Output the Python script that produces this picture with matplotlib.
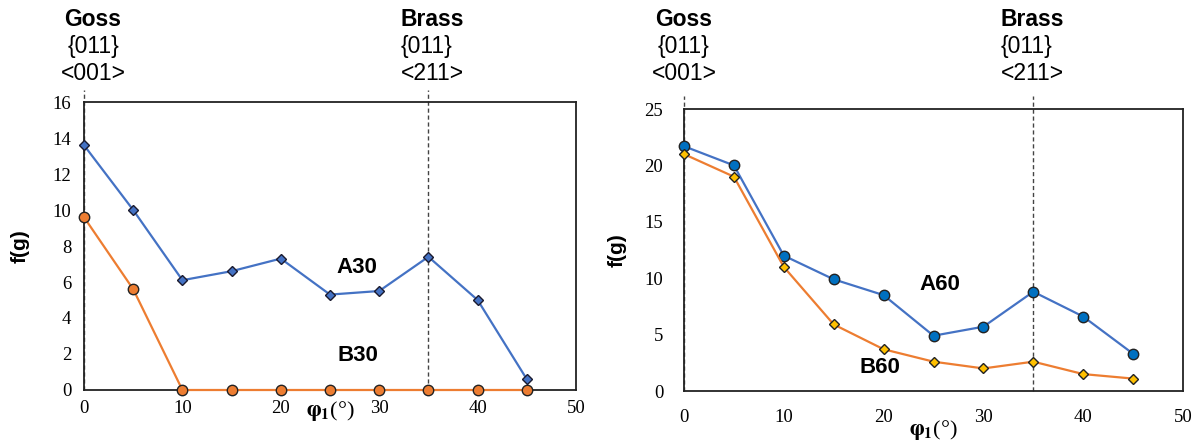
import matplotlib.pyplot as plt

phi1 = [0, 5, 10, 15, 20, 25, 30, 35, 40, 45]

a30 = [13.6, 10.0, 6.1, 6.6, 7.3, 5.3, 5.5, 7.4, 5.0, 0.6]
b30 = [9.6, 5.6, 0, 0, 0, 0, 0, 0, 0, 0]
a60 = [21.7, 20.0, 12.0, 9.9, 8.5, 4.9, 5.7, 8.8, 6.6, 3.3]
b60 = [21.0, 19.0, 11.0, 5.9, 3.7, 2.6, 2.0, 2.6, 1.5, 1.1]

left_yticks = [0, 2, 4, 6, 8, 10, 12, 14, 16]
right_yticks = [0, 5, 10, 15, 20, 25]
xticks = [0, 10, 20, 30, 40, 50]

BLUE = "#4472C4"
ORANGE = "#ED7D31"
SERIF = "Liberation Serif"
SANS = "Liberation Sans"

plt.rcParams["mathtext.fontset"] = "stix"

fig = plt.figure(figsize=(11.99, 4.45), dpi=100)
ax1 = fig.add_axes([84 / 1199, 1 - 390 / 445, 492 / 1199, 288 / 445])
ax2 = fig.add_axes([684 / 1199, 1 - 391 / 445, 499 / 1199, 282 / 445])


def style_axes(ax, ymax, yticks, ylabel_x, xlabel_y, xpad, ypad):
    ax.set_xlim(0, 50)
    ax.set_ylim(0, ymax)
    ax.set_xticks(xticks)
    ax.set_yticks(yticks)
    ax.tick_params(length=0, labelsize=13.5)
    ax.tick_params(axis="x", pad=xpad)
    ax.tick_params(axis="y", pad=ypad)
    for lab in ax.get_xticklabels() + ax.get_yticklabels():
        lab.set_fontfamily(SERIF)
    for sp in ax.spines.values():
        sp.set_linewidth(1.3)
        sp.set_color("#222222")
    ax.set_ylabel("f(g)", fontfamily=SANS, fontweight="bold", fontsize=15)
    ax.yaxis.set_label_coords(ylabel_x, 0.5)
    ax.set_xlabel(r"$\mathbf{\varphi_1}$(°)", fontfamily=SERIF, fontsize=16)
    ax.xaxis.set_label_coords(0.5, xlabel_y)


# left panel
ax1.plot(phi1, a30, color=BLUE, lw=1.6, marker="D", ms=5, mfc=BLUE,
         mec="#1a1a2e", mew=1.0, clip_on=False, zorder=3)
ax1.plot(phi1, b30, color=ORANGE, lw=1.6, marker="o", ms=7.5, mfc=ORANGE,
         mec="#222222", mew=1.0, clip_on=False, zorder=3)
style_axes(ax1, 16, left_yticks, -0.11, -0.03, 7, 9)
ax1.text(27.7, 6.8, "A30", fontfamily=SANS, fontweight="bold", fontsize=16,
         ha="center", va="center")
ax1.text(27.8, 1.9, "B30", fontfamily=SANS, fontweight="bold", fontsize=16,
         ha="center", va="center")

# right panel
ax2.plot(phi1, a60, color=BLUE, lw=1.6, marker="o", ms=7.5, mfc="#0070C0",
         mec="#222222", mew=1.0, clip_on=False, zorder=3)
ax2.plot(phi1, b60, color=ORANGE, lw=1.6, marker="D", ms=5, mfc="#FFC000",
         mec="#222222", mew=1.0, clip_on=False, zorder=3)
style_axes(ax2, 25, right_yticks, -0.115, -0.095, 13, 15)
ax2.text(25.6, 9.4, "A60", fontfamily=SANS, fontweight="bold", fontsize=16,
         ha="center", va="center")
ax2.text(19.6, 2.1, "B60", fontfamily=SANS, fontweight="bold", fontsize=16,
         ha="center", va="center")

# dashed orientation lines and labels (figure pixel positions of text rows)
for ax, top_px, goss_px, brass_px in ((ax1, 90, 93, 401), (ax2, 96, 684, 1001)):
    y0, y1 = ax.get_ylim()
    bottom_px = 390 if ax is ax1 else 391
    span_px = 288 if ax is ax1 else 282
    top_val = y0 + (bottom_px - top_px) / span_px * (y1 - y0)
    for xv in (0, 35):
        ax.plot([xv, xv], [0, top_val], ls=(0, (3, 2)), color="#444444",
                lw=1.0, clip_on=False, zorder=2)
    for txt, ha, xpx, lines in (("Goss", "center", goss_px, ("{011}", "<001>")),
                                ("Brass", "left", brass_px, ("{011}", "<211>"))):
        fig.text(xpx / 1199, 1 - 19 / 445, txt, fontfamily=SANS,
                 fontweight="bold", fontsize=16.5, ha=ha, va="center")
        fig.text(xpx / 1199, 1 - 47 / 445, lines[0], fontfamily=SANS,
                 fontsize=16.5, ha=ha, va="center")
        fig.text(xpx / 1199, 1 - 74 / 445, lines[1], fontfamily=SANS,
                 fontsize=16.5, ha=ha, va="center")

fig.savefig("out.png", dpi=100)
